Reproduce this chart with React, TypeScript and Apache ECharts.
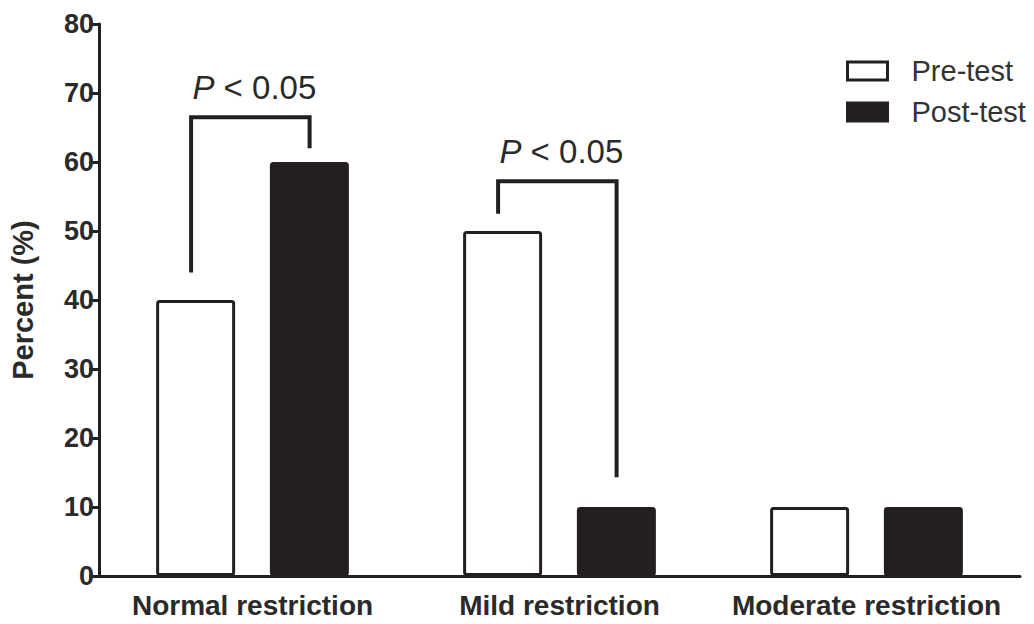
import React, { useEffect, useRef } from "react";
import * as echarts from "echarts";

const categories = ["Normal restriction", "Mild restriction", "Moderate restriction"];
const preTest = [40, 50, 10];
const postTest = [60, 10, 10];
const yTicks = { min: 0, max: 80, interval: 10 };
// [category index, left leg start, bracket top, right leg end]
const brackets = [
  [0, 44, 66.5, 62],
  [1, 52.5, 57.2, 14.3],
];

const FONT = '"Liberation Sans", Arial, Helvetica, sans-serif';
const INK = "#231f20";

export default function App() {
  const ref = useRef<HTMLDivElement>(null);
  useEffect(() => {
    if (!ref.current) return;
    const chart = echarts.init(ref.current, null, { renderer: "svg" });
    chart.setOption({
      animation: false,
      backgroundColor: "#ffffff",
      grid: { left: 99, right: 14, top: 24, bottom: 48, containLabel: false },
      legend: {
        orient: "vertical",
        left: 841,
        top: 51,
        itemWidth: 40,
        itemHeight: 18,
        itemGap: 11,
        icon: "rect",
        textStyle: { fontFamily: FONT, fontSize: 29, color: "#333", lineHeight: 30, padding: [0, 0, 0, 19] },
        data: [
          { name: "Pre-test", itemStyle: { color: "#fff", borderColor: INK, borderWidth: 3 } },
          { name: "Post-test", itemStyle: { color: INK, borderColor: INK, borderWidth: 3 } },
        ],
      },
      xAxis: {
        type: "category",
        data: categories,
        axisLine: { lineStyle: { color: INK, width: 3 } },
        axisTick: { alignWithLabel: true, length: 11, lineStyle: { color: INK, width: 3 } },
        axisLabel: { interval: 0, fontFamily: FONT, fontSize: 28, fontWeight: "bold", color: "#2a2a2a", margin: 15 },
      },
      yAxis: {
        type: "value",
        min: yTicks.min,
        max: yTicks.max,
        interval: yTicks.interval,
        name: "Percent (%)",
        nameLocation: "middle",
        nameGap: 62,
        nameTextStyle: { fontFamily: FONT, fontSize: 29, fontWeight: "bold", color: "#2a2a2a" },
        splitLine: { show: false },
        axisLine: { show: true, lineStyle: { color: INK, width: 3 } },
        axisTick: { show: true, length: 10, lineStyle: { color: INK, width: 3 } },
        axisLabel: { fontFamily: FONT, fontSize: 27, fontWeight: "bold", color: "#2a2a2a", margin: 5 },
      },
      series: [
        {
          name: "Pre-test",
          type: "bar",
          data: preTest,
          barWidth: 79,
          barGap: "44%",
          itemStyle: { color: "#ffffff", borderColor: INK, borderWidth: 3, borderRadius: 2 },
        },
        {
          name: "Post-test",
          type: "bar",
          data: postTest,
          barWidth: 79,
          barGap: "44%",
          itemStyle: { color: INK, borderColor: INK, borderWidth: 3, borderRadius: 2 },
        },
        {
          name: "brackets",
          type: "custom",
          data: brackets,
          silent: true,
          z: 5,
          renderItem: (params: any, api: any) => {
            const c = api.coord([api.value(0), 0])[0];
            const band = api.size([1, 0])[0];
            const xl = c - 0.2 * band;
            const xr = c + 0.186 * band;
            const y1 = api.coord([api.value(0), api.value(1)])[1];
            const yt = api.coord([api.value(0), api.value(2)])[1];
            const y2 = api.coord([api.value(0), api.value(3)])[1];
            return {
              type: "group",
              children: [
                {
                  type: "polyline",
                  shape: { points: [[xl, y1], [xl, yt], [xr, yt], [xr, y2]] },
                  style: { stroke: INK, lineWidth: 4, fill: "none", lineJoin: "miter" },
                },
                {
                  type: "text",
                  x: (xl + xr) / 2 + 4,
                  y: yt - 30,
                  style: {
                    text: "{i|P} < 0.05",
                    align: "center",
                    verticalAlign: "middle",
                    fontFamily: FONT,
                    fontSize: 33,
                    fill: "#2a2a2a",
                    rich: {
                      i: { fontStyle: "italic", fontFamily: FONT, fontSize: 33, fill: "#2a2a2a" },
                    },
                  },
                },
              ],
            };
          },
        },
      ],
    });
    return () => chart.dispose();
  }, []);
  return <div ref={ref} style={{ position: "fixed", left: 0, top: 0, width: 1034, height: 624 }} />;
}
